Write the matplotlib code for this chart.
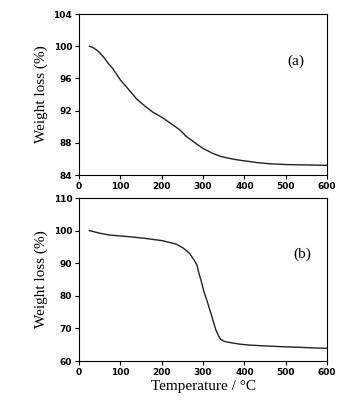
import matplotlib
matplotlib.use("Agg")
import matplotlib.pyplot as plt

temp_a = [25, 35, 48, 60, 70, 81, 100, 121, 140, 161, 180, 202, 222, 242, 250, 258, 270, 282, 300, 323, 343, 363, 383, 403, 430, 460, 500, 550, 600]
weight_a = [100.0, 99.8, 99.3, 98.6, 97.9, 97.25, 95.8, 94.56, 93.4, 92.49, 91.75, 91.12, 90.4, 89.67, 89.3, 88.85, 88.4, 87.94, 87.3, 86.7, 86.3, 86.07, 85.88, 85.74, 85.55, 85.4, 85.3, 85.25, 85.2]

temp_b = [25, 50, 73, 100, 121, 161, 202, 234, 250, 258, 268, 278, 285, 290, 296, 302, 310, 319, 331, 338, 343, 350, 359, 387, 411, 454, 500, 535, 570, 600]
weight_b = [100.0, 99.2, 98.65, 98.35, 98.13, 97.6, 96.9, 95.9, 94.8, 94.05, 92.9, 91.0, 89.5, 86.9, 84.3, 81.3, 78.3, 74.6, 69.5, 67.6, 66.6, 66.1, 65.8, 65.2, 64.9, 64.6, 64.35, 64.2, 64.0, 63.9]

xticks = [0, 100, 200, 300, 400, 500, 600]
yticks_a = [84, 88, 92, 96, 100, 104]
yticks_b = [60, 70, 80, 90, 100, 110]

fig = plt.figure(figsize=(3.41, 4.07), dpi=100)
ax1 = fig.add_axes([0.232, 0.570, 0.727, 0.3956])
ax2 = fig.add_axes([0.232, 0.113, 0.727, 0.4005])

serif = ['Liberation Serif', 'DejaVu Serif']
for ax, t, w, yt, lab, lx, ly in [(ax1, temp_a, weight_a, yticks_a, '(a)', 525, 98.1),
                                   (ax2, temp_b, weight_b, yticks_b, '(b)', 539, 92.8)]:
    ax.plot(t, w, color='#222222', lw=1.0, solid_joinstyle='round')
    ax.set_xlim(0, 600)
    ax.set_ylim(yt[0], yt[-1])
    ax.set_xticks(xticks)
    ax.set_yticks(yt)
    ax.tick_params(direction='out', length=3, width=0.8, labelsize=6.5, pad=2)
    for lbl in ax.get_xticklabels() + ax.get_yticklabels():
        lbl.set_fontweight('bold')
        lbl.set_family('DejaVu Sans')
    for s in ax.spines.values():
        s.set_linewidth(0.8)
    ax.set_ylabel('Weight loss (%)', family=serif, fontsize=11, labelpad=4)
    ax.text(lx, ly, lab, family=serif, fontsize=11, ha='center', va='center')

ax2.set_xlabel('Temperature / \u00b0C', family=serif, fontsize=11, labelpad=2)

fig.savefig('out.png', dpi=100)
